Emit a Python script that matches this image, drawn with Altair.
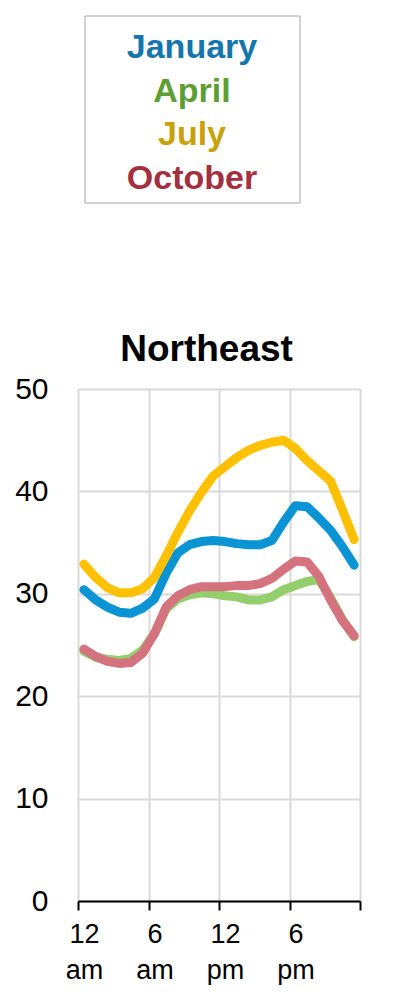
import altair as alt
import pandas as pd

hours = list(range(24))
months = ["January", "April", "July", "October"]

january = [30.4, 29.4, 28.7, 28.2, 28.1, 28.6, 29.5, 32.0, 34.0, 34.8, 35.1, 35.2,
           35.1, 34.9, 34.8, 34.8, 35.2, 37.0, 38.6, 38.5, 37.4, 36.2, 34.6, 32.8]
april = [24.4, 23.8, 23.6, 23.5, 23.7, 24.5, 26.1, 28.5, 29.5, 29.9, 30.1, 30.0,
         29.8, 29.7, 29.4, 29.4, 29.7, 30.4, 30.8, 31.2, 31.4, 29.6, 27.5, 25.8]
july = [32.9, 31.6, 30.6, 30.1, 30.1, 30.5, 31.6, 33.7, 36.0, 38.1, 39.9, 41.5,
        42.4, 43.3, 44.0, 44.5, 44.8, 45.0, 44.2, 43.0, 42.0, 41.0, 38.2, 35.3]
october = [24.6, 23.9, 23.4, 23.2, 23.3, 24.2, 26.1, 28.7, 29.8, 30.4, 30.7, 30.7,
           30.7, 30.8, 30.8, 31.0, 31.5, 32.4, 33.2, 33.1, 31.7, 29.4, 27.4, 25.9]

series = {"January": january, "April": april, "July": july, "October": october}

tick_values = [0, 6, 12, 18, 24]
tick_labels = [["12", "am"], ["6", "am"], ["12", "pm"], ["6", "pm"], [""]]
y_ticks = [0, 10, 20, 30, 40, 50]

line_colors = {"January": "#0A94D4", "April": "#95CE6C", "July": "#FFC000", "October": "#D4737E"}
text_colors = {"January": "#1576AD", "April": "#5C9E34", "July": "#C9A10B", "October": "#A2303F"}

rows = []
for m in months:
    for h, v in zip(hours, series[m]):
        rows.append({"month": m, "hour": h + 0.5, "value": v})
df = pd.DataFrame(rows)

FONT = "Liberation Sans, Arial, sans-serif"

parts = []
for tv, tl in zip(tick_values, tick_labels):
    arr = "[" + ",".join("'" + s + "'" for s in tl) + "]"
    parts.append(f"datum.value=={tv}?{arr}:")
label_expr = "".join(parts) + "''"

x_enc = alt.X("hour:Q", scale=alt.Scale(domain=[0, 24], nice=False, zero=False),
              axis=alt.Axis(values=tick_values, labelExpr=label_expr, title=None,
                            labelFontSize=27, labelFont=FONT, labelColor="#000000",
                            labelOffset=6, labelPadding=11, labelLineHeight=36,
                            labelFlush=False, labelOverlap=False, labelBound=False,
                            domainColor="#000000", domainWidth=2,
                            tickColor="#000000", tickWidth=2, tickSize=9,
                            grid=True, gridColor="#D9D9D9", gridWidth=2))
y_enc = alt.Y("value:Q", scale=alt.Scale(domain=[0, 50], nice=False),
              axis=alt.Axis(values=y_ticks, title=None, domain=False, ticks=False,
                            labelFontSize=30, labelFont=FONT, labelColor="#000000",
                            labelPadding=30, labelFlush=False, labelOverlap=False,
                            grid=True, gridColor="#D9D9D9", gridWidth=2))

layers = []
for idx, m in enumerate(["April", "October", "January", "July"]):
    ch = alt.Chart(df).transform_filter(alt.datum.month == m).mark_line(
        strokeWidth=9, color=line_colors[m], strokeJoin="round", strokeCap="round"
    )
    if idx == 0:
        ch = ch.encode(x=x_enc, y=y_enc)
    else:
        ch = ch.encode(x=alt.X("hour:Q"), y=alt.Y("value:Q"))
    layers.append(ch)

# legend box
box = alt.Chart(pd.DataFrame({"k": [0]})).mark_rect(
    fill="white", stroke="#A6A6A6", strokeWidth=1
).encode(x=alt.value(7), x2=alt.value(222), y=alt.value(-373), y2=alt.value(-186))
layers.append(box)

for i, m in enumerate(months):
    t = alt.Chart(pd.DataFrame({"t": [m]})).mark_text(
        font=FONT, fontSize=34, fontWeight="bold", color=text_colors[m],
        align="center", baseline="alphabetic"
    ).encode(text="t:N", x=alt.value(114), y=alt.value(-331 + i * 43.5))
    layers.append(t)

title = alt.Chart(pd.DataFrame({"t": ["Northeast"]})).mark_text(
    font=FONT, fontSize=37, fontWeight="bold", color="#000000",
    align="center", baseline="alphabetic"
).encode(text="t:N", x=alt.value(128.5), y=alt.value(-28))
layers.append(title)

chart = alt.layer(*layers).properties(
    width=282, height=512,
    autosize=alt.AutoSizeParams(type="none"),
    padding={"left": 70, "top": 381, "right": 31, "bottom": 91},
).configure_view(stroke=None).configure(background="white")

chart.save("out.html", embed_options={"renderer": "svg", "actions": False})
